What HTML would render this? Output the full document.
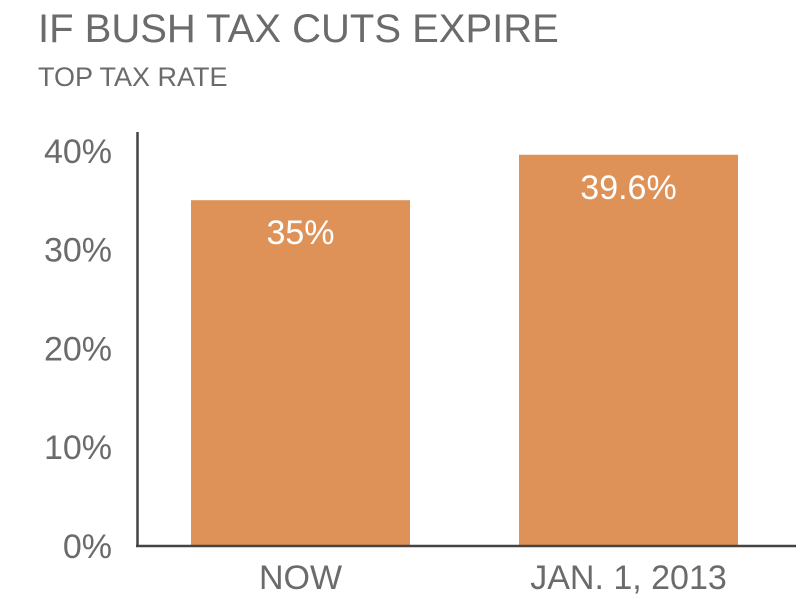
<!DOCTYPE html>
<html><head><meta charset="utf-8"><style>
body{margin:0;background:#fff;width:809px;height:600px;overflow:hidden;font-family:"Liberation Sans",sans-serif}
</style></head><body>
<svg width="809" height="600" xmlns="http://www.w3.org/2000/svg" font-family="Liberation Sans, sans-serif">
<text x="38" y="42" font-size="40" fill="#6b6b6b">IF BUSH TAX CUTS EXPIRE</text>
<text x="38" y="86" font-size="27" fill="#6b6b6b">TOP TAX RATE</text>
<g id="ticks"></g>
<g id="bars"></g>
<line x1="137.5" y1="132" x2="137.5" y2="546" stroke="#444" stroke-width="2.5"/>
<line x1="136" y1="546" x2="796" y2="546" stroke="#444" stroke-width="2.5"/>
</svg>
<script>
const categories = ["NOW", "JAN. 1, 2013"];
const values = [35, 39.6];
const valueLabels = ["35%", "39.6%"];
const tickValues = [0, 10, 20, 30, 40];
const tickLabels = ["0%", "10%", "20%", "30%", "40%"];

const NS = "http://www.w3.org/2000/svg";
const y0 = 546, pxPer = 9.88;
function yScale(v){ return y0 - v * pxPer; }
const barLeft = [191, 519], barW = 219;
function xBand(i){ return barLeft[0] + i * (barLeft[1] - barLeft[0]); }

const tg = document.getElementById('ticks');
tickValues.forEach((v, i) => {
  const t = document.createElementNS(NS, 'text');
  
  
  t.setAttribute('x', 112);
  t.setAttribute('y', yScale(v) + 12);
  t.setAttribute('text-anchor', 'end');
  t.setAttribute('font-size', '34');
  t.setAttribute('fill', '#6b6b6b');
  t.textContent = tickLabels[i];
  tg.appendChild(t);
});

const bg = document.getElementById('bars');
categories.forEach((c, i) => {
  const x = xBand(i);
  const r = document.createElementNS(NS, 'rect');
  
  
  r.setAttribute('x', x);
  r.setAttribute('y', yScale(values[i]));
  r.setAttribute('width', barW);
  r.setAttribute('height', y0 - yScale(values[i]));
  r.setAttribute('fill', '#de9257');
  bg.appendChild(r);
  const vl = document.createElementNS(NS, 'text');
  
  
  vl.setAttribute('x', x + barW / 2);
  vl.setAttribute('y', yScale(values[i]) + 44);
  vl.setAttribute('text-anchor', 'middle');
  vl.setAttribute('font-size', '34');
  vl.setAttribute('fill', '#fff');
  vl.textContent = valueLabels[i];
  bg.appendChild(vl);
  const cl = document.createElementNS(NS, 'text');
  
  
  cl.setAttribute('x', x + barW / 2);
  cl.setAttribute('y', 589);
  cl.setAttribute('text-anchor', 'middle');
  cl.setAttribute('font-size', '34');
  cl.setAttribute('fill', '#6b6b6b');
  cl.textContent = c;
  bg.appendChild(cl);
});
</script>
</body></html>
